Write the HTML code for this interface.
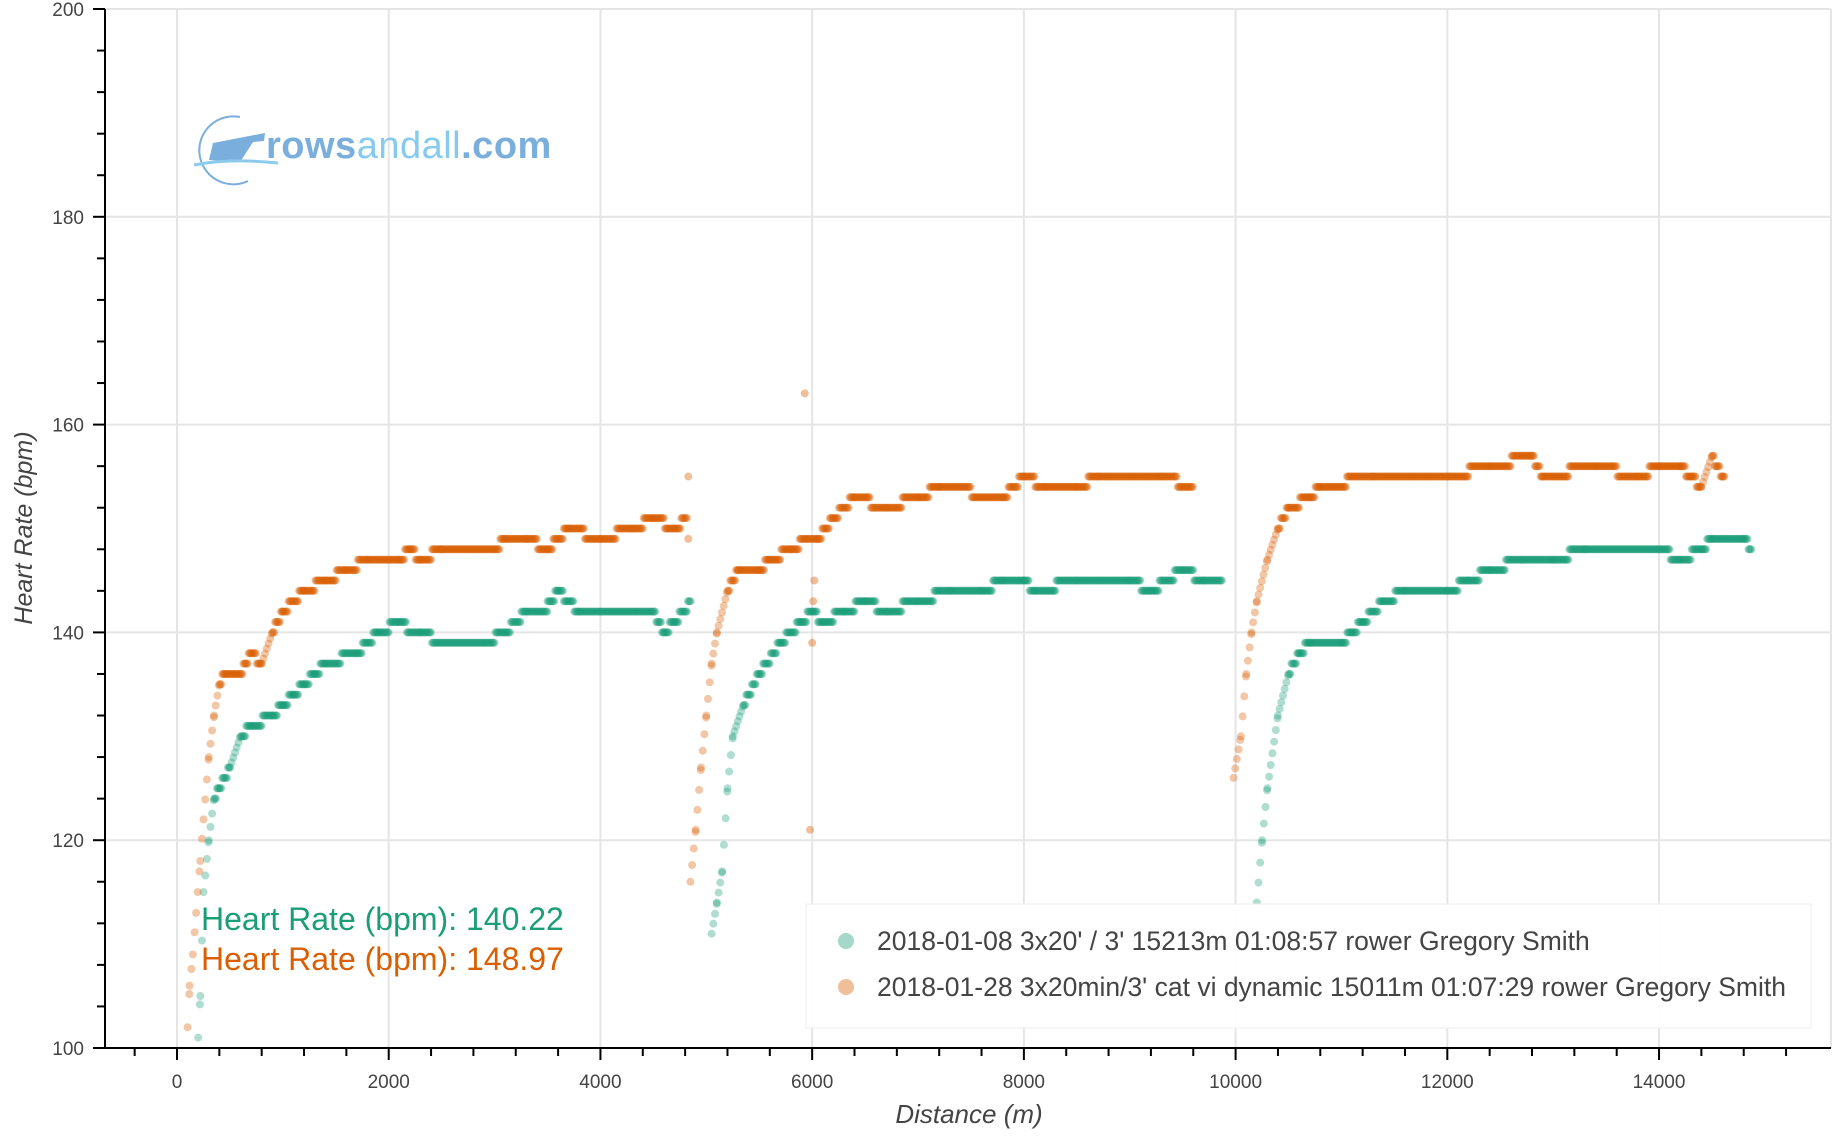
<!DOCTYPE html>
<html><head><meta charset="utf-8"><style>
html,body{margin:0;padding:0;background:#fff;}
svg{display:block;font-family:"Liberation Sans",Arial,sans-serif;}
</style></head><body>
<svg id="s" width="1840" height="1140" xmlns="http://www.w3.org/2000/svg">
<rect width="1840" height="1140" fill="#fff"/>
<g id="grid" stroke="#e5e5e5" stroke-width="2"></g>
<g id="logo">
  <path d="M 240 117 A 34 34 0 1 0 248 181" fill="none" stroke="#7aaedc" stroke-width="2"/>
  <polygon points="213,143 265,133 264,141 253,142 240,162 209,160" fill="#7aaedc"/>
  <path d="M 194 165 Q 230 158 278 163" fill="none" stroke="#8ccbec" stroke-width="3"/>
  <text x="266" y="158" font-size="38" fill="#7aaedc" font-weight="bold" letter-spacing="0.5">rows<tspan fill="#86cbee" font-weight="normal">andall</tspan>.com</text>
</g>
<g id="pts"></g>
<g id="axes" stroke="#000" stroke-width="2"></g>
<g id="labels" fill="#444" font-size="19"></g>
<text x="969" y="1123" text-anchor="middle" font-size="26" font-style="italic" fill="#444">Distance (m)</text>
<text transform="translate(32,528) rotate(-90)" text-anchor="middle" font-size="25" font-style="italic" fill="#444">Heart Rate (bpm)</text>
<text x="201" y="930" font-size="32" fill="#1b9e77">Heart Rate (bpm): 140.22</text>
<text x="201" y="970" font-size="32" fill="#d95f02">Heart Rate (bpm): 148.97</text>
<rect x="806" y="904" width="1005" height="124" fill="#fff" fill-opacity="0.95" stroke="#eee" stroke-width="1"/>
<circle cx="846" cy="941" r="8" fill="#1b9e77" fill-opacity="0.4"/>
<circle cx="846" cy="987" r="8" fill="#d95f02" fill-opacity="0.4"/>
<text x="877" y="950" font-size="26.5" fill="#444">2018-01-08 3x20' / 3' 15213m 01:08:57 rower Gregory Smith</text>
<text x="877" y="996" font-size="26.5" fill="#444">2018-01-28 3x20min/3' cat vi dynamic 15011m 01:07:29 rower Gregory Smith</text>
</svg>
<script>
var NS="http://www.w3.org/2000/svg";
function X(d){return 177+d*0.10586;}
function Y(v){return 1048-(v-100)*10.39;}
function el(p,t,a){var e=document.createElementNS(NS,t);for(var k in a)e.setAttribute(k,a[k]);p.appendChild(e);return e;}
var grid=document.getElementById('grid'),axes=document.getElementById('axes'),lab=document.getElementById('labels');
for(var d=0;d<=14000;d+=2000)el(grid,'line',{x1:X(d),x2:X(d),y1:9,y2:1048});
el(grid,'line',{x1:1831,x2:1831,y1:9,y2:1048});
for(var v=120;v<=200;v+=20)el(grid,'line',{x1:105,x2:1831,y1:Y(v),y2:Y(v)});
el(axes,'line',{x1:105,x2:1831,y1:1048,y2:1048});
el(axes,'line',{x1:105,x2:105,y1:9,y2:1048});
for(var d=-400;d<=15200;d+=400){var maj=d%2000==0;el(axes,'line',{x1:X(d),x2:X(d),y1:1048,y2:maj?1060:1056});
 if(maj){var t=el(lab,'text',{x:X(d),y:1088,'text-anchor':'middle'});t.textContent=d;}}
for(var v=100;v<=200;v+=4){var maj=(v-100)%20==0;el(axes,'line',{x1:maj?93:97,x2:105,y1:Y(v),y2:Y(v)});
 if(maj){var t=el(lab,'text',{x:84,y:Y(v)+7,'text-anchor':'end'});t.textContent=v;}}
function series(segs,col){
 var g=document.getElementById('pts');
 segs.forEach(function(s){
  for(var i=0;i<s.length-1;i++){
   var a=s[i],b=s[i+1];
   var steep=Math.abs(b[1]-a[1])/(b[0]-a[0])>0.02;
   var step=steep?16:9;
   for(var d=a[0];d<b[0];d+=step){
    var f=(d-a[0])/(b[0]-a[0]);var v=a[1]+(b[1]-a[1])*f;
    var vv=steep?v:Math.round(v);
    el(g,'circle',{cx:X(d).toFixed(1),cy:Y(vv).toFixed(1),r:4,fill:col,'fill-opacity':0.35});
   }
  }
 });
}
var G=[[[200,101],[220,105],[250,115],[300,120],[350,124],[400,125],[500,127],[600,130],[700,131],[900,132],[1000,133],[1100,134],[1200,135],[1300,136],[1400,137],[1700,138],[1900,140],[2100,141],[2300,139.6],[2900,139],[3100,140],[3300,142],[3500,142.5],[3600,144],[3800,142],[4500,142],[4600,140],[4700,141],[4860,143]],
[[5050,111],[5100,114],[5150,117],[5200,125],[5250,130],[5350,133],[5500,136],[5700,139],[5900,141],[6000,142],[6100,141],[6300,142],[6500,143],[6700,142],[7000,143],[7300,144],[7600,144],[7800,145],[8000,145],[8100,144],[8500,145],[9000,145],[9200,144],[9500,146],[9700,145],[9880,145]],
[[10200,114],[10250,120],[10300,125],[10400,132],[10500,136],[10600,138],[10700,139],[11000,139],[11100,140],[11200,141],[11400,143],[11600,144],[12000,144],[12200,145],[12400,146],[12700,147],[13000,147],[13300,148],[14000,148],[14200,147],[14400,148],[14500,149],[14800,149],[14880,148]]];
var O=[[[100,102],[120,106],[150,109],[180,113],[220,118],[250,122],[300,128],[350,132],[400,135],[450,136],[600,136],[650,137],[700,138],[800,137],[900,140],[1000,142],[1200,144],[1400,145],[1600,146],[1800,147],[2100,147],[2200,148],[2300,147],[2500,148],[3000,148],[3100,149],[3300,149],[3500,148],[3700,150],[4000,149],[4300,150],[4500,151],[4700,150],[4820,151]],
[[4850,116],[4900,121],[4950,127],[5000,132],[5050,137],[5100,140],[5200,144],[5300,146],[5500,146],[5600,147],[5800,148],[5950,149],[6050,149],[6200,151],[6400,153],[6700,152],[7000,153],[7200,154],[7800,153],[8000,155],[8200,154],[8500,154],[8700,155],[9300,155],[9600,154]],
[[9980,126],[10050,130],[10100,136],[10150,140],[10200,143],[10300,147],[10400,150],[10500,152],[10700,153],[10800,154],[11300,155],[12000,155],[12400,156],[12800,157],[12900,155],[13400,156],[13800,155],[14000,156],[14200,156],[14300,155],[14400,154],[14500,157],[14600,155],[14620,155]]];
series(G,'#1b9e77');series(O,'#d95f02');
var g=document.getElementById('pts');
[[4830,155],[4830,149],[5930,163],[5980,121],[6000,139],[6010,143],[6020,145]].forEach(function(p){el(g,'circle',{cx:X(p[0]),cy:Y(p[1]),r:4,fill:'#d95f02','fill-opacity':0.4});});
</script>
</body></html>
